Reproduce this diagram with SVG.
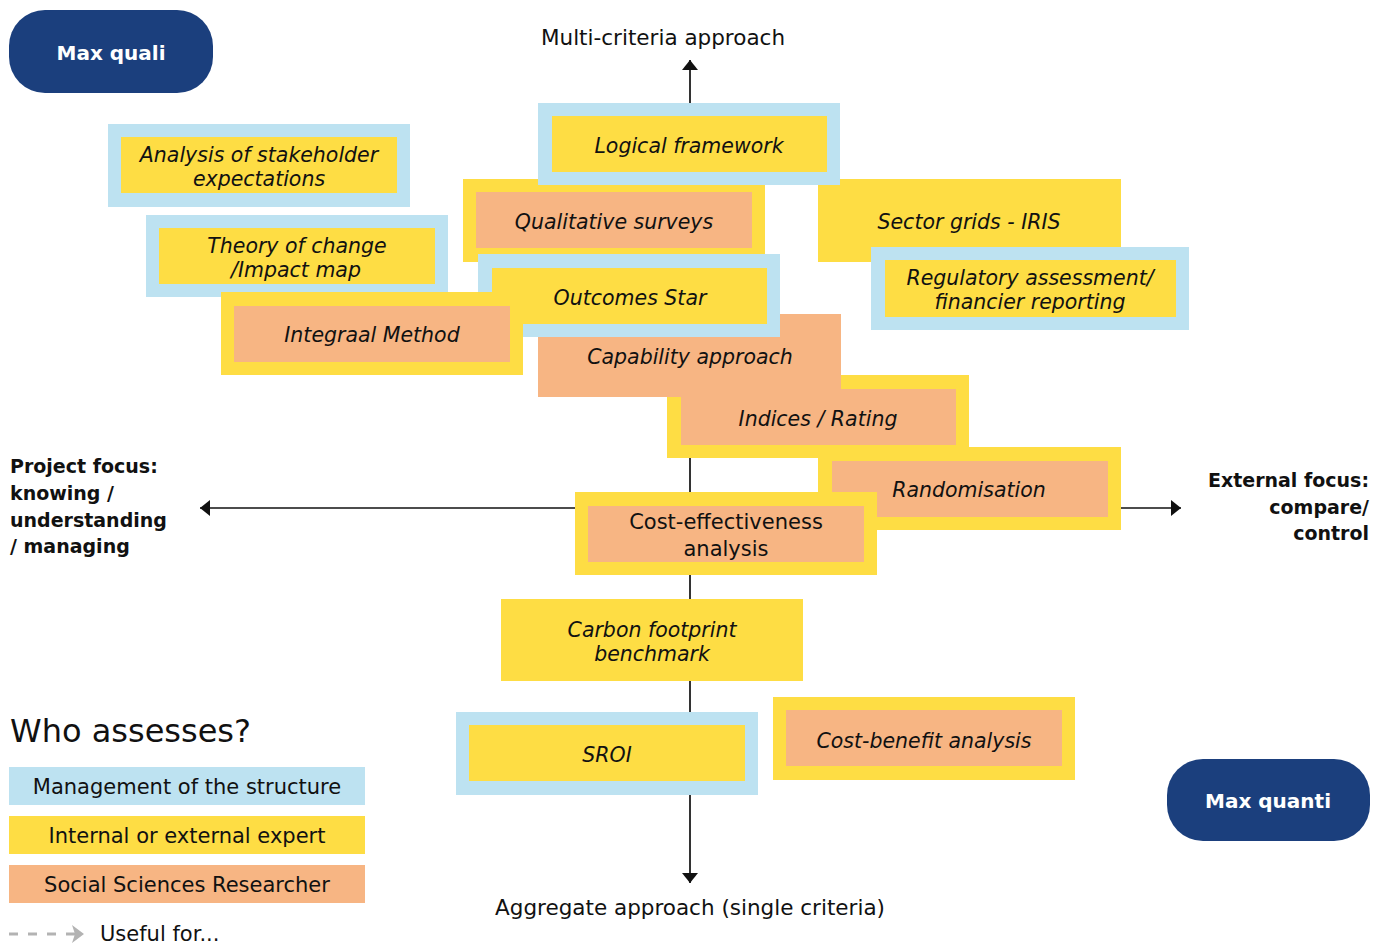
<svg xmlns="http://www.w3.org/2000/svg" width="1387" height="944" viewBox="0 0 1387 944">
<style>
text{font-family:"DejaVu Sans","Liberation Sans",sans-serif;fill:#111}
.bt{font-size:20.5px;font-style:italic;text-anchor:middle}
.up{font-size:21px;text-anchor:middle}
.ax{font-size:21.5px}
.bold{font-size:19px;font-weight:bold}
.blue{fill:#bde2f1}
.yel{fill:#fedd44}
.org{fill:#f7b583}
.navy{fill:#1b3f7d}
.wt{fill:#fff;font-size:20px;font-weight:bold;text-anchor:middle}
</style>
<defs>
<marker id="ah" viewBox="0 0 10 16" refX="10" refY="8" markerWidth="10" markerHeight="16" markerUnits="userSpaceOnUse" orient="auto">
<path d="M0,0 L10,8 L0,16 Z" fill="#111"/>
</marker>
<marker id="gh" viewBox="0 0 12 18" refX="12" refY="9" markerWidth="12" markerHeight="18" markerUnits="userSpaceOnUse" orient="auto">
<path d="M0,0 L12,9 L0,18 L3,9 Z" fill="#b3b3b3"/>
</marker>
</defs>
<rect width="1387" height="944" fill="#fff"/>

<g id="connectors">
<line x1="690" y1="300" x2="690" y2="60" stroke="#333" stroke-width="2" marker-end="url(#ah)"/>
<line x1="690" y1="300" x2="690" y2="883" stroke="#333" stroke-width="2" marker-end="url(#ah)"/>
<line x1="690" y1="508" x2="200" y2="508" stroke="#111" stroke-width="1.5" marker-end="url(#ah)"/>
<line x1="690" y1="508" x2="1181" y2="508" stroke="#111" stroke-width="1.5" marker-end="url(#ah)"/>
</g>

<g id="axis-labels">
<text class="ax" x="663" y="45" text-anchor="middle">Multi-criteria approach</text>
<text class="ax" x="690" y="915" text-anchor="middle">Aggregate approach (single criteria)</text>
<text class="bold" x="10" y="473">Project focus:</text>
<text class="bold" x="10" y="500">knowing /</text>
<text class="bold" x="10" y="527">understanding</text>
<text class="bold" x="10" y="553">/ managing</text>
<text class="bold" x="1369" y="487" text-anchor="end">External focus:</text>
<text class="bold" x="1369" y="514" text-anchor="end">compare/</text>
<text class="bold" x="1369" y="540" text-anchor="end">control</text>
</g>

<g id="max-quali"><rect class="navy" x="9" y="10" width="204" height="83" rx="36"/><text class="wt" x="111" y="60">Max quali</text></g>
<g id="max-quanti"><rect class="navy" x="1167" y="759" width="203" height="82" rx="36"/><text class="wt" x="1268" y="808">Max quanti</text></g>

<g id="sector-grids"><rect class="yel" x="818" y="179" width="303" height="83"/><text class="bt" x="969" y="229">Sector grids - IRIS</text></g>
<g id="qualitative-surveys"><rect class="yel" x="463" y="179" width="302" height="83"/><rect class="org" x="476" y="192" width="276" height="56"/><text class="bt" x="614" y="229">Qualitative surveys</text></g>
<g id="logical-framework"><rect class="blue" x="538" y="103" width="302" height="82"/><rect class="yel" x="552" y="116" width="275" height="56"/><text class="bt" x="689" y="153">Logical framework</text></g>
<g id="regulatory"><rect class="blue" x="871" y="247" width="318" height="83"/><rect class="yel" x="885" y="260" width="291" height="57"/><text class="bt" x="1030" y="285">Regulatory assessment/</text><text class="bt" x="1030" y="309">financier reporting</text></g>
<g id="indices-rating"><rect class="yel" x="667" y="375" width="302" height="83"/><rect class="org" x="681" y="389" width="275" height="56"/><text class="bt" x="818" y="426">Indices / Rating</text></g>
<g id="capability-approach"><rect class="org" x="538" y="314" width="303" height="83"/><text class="bt" x="690" y="364">Capability approach</text></g>
<g id="outcomes-star"><rect class="blue" x="478" y="254" width="302" height="83"/><rect class="yel" x="492" y="268" width="275" height="56"/><text class="bt" x="630" y="305">Outcomes Star</text></g>
<g id="theory-of-change"><rect class="blue" x="146" y="215" width="302" height="82"/><rect class="yel" x="159" y="228" width="276" height="56"/><text class="bt" x="297" y="253">Theory of change</text><text class="bt" x="296" y="277">/Impact map</text></g>
<g id="integraal-method"><rect class="yel" x="221" y="292" width="302" height="83"/><rect class="org" x="234" y="306" width="276" height="56"/><text class="bt" x="372" y="342">Integraal Method</text></g>
<g id="stakeholder-analysis"><rect class="blue" x="108" y="124" width="302" height="83"/><rect class="yel" x="121" y="137" width="276" height="56"/><text class="bt" x="259" y="162">Analysis of stakeholder</text><text class="bt" x="259" y="186">expectations</text></g>
<g id="randomisation"><rect class="yel" x="818" y="447" width="303" height="83"/><rect class="org" x="832" y="461" width="276" height="56"/><text class="bt" x="969" y="497">Randomisation</text></g>
<g id="cost-effectiveness"><rect class="yel" x="575" y="492" width="302" height="83"/><rect class="org" x="588" y="506" width="276" height="56"/><text class="up" x="726" y="529">Cost-effectiveness</text><text class="up" x="726" y="556">analysis</text></g>
<g id="carbon-footprint"><rect class="yel" x="501" y="599" width="302" height="82"/><text class="bt" x="652" y="637">Carbon footprint</text><text class="bt" x="652" y="661">benchmark</text></g>
<g id="sroi"><rect class="blue" x="456" y="712" width="302" height="83"/><rect class="yel" x="469" y="725" width="276" height="56"/><text class="bt" x="607" y="762">SROI</text></g>
<g id="cost-benefit"><rect class="yel" x="773" y="697" width="302" height="83"/><rect class="org" x="786" y="710" width="276" height="56"/><text class="bt" x="924" y="748">Cost-benefit analysis</text></g>

<g id="legend">
<text x="10" y="742" font-size="32">Who assesses?</text>
<rect class="blue" x="9" y="767" width="356" height="38"/><text class="up" x="187" y="794">Management of the structure</text>
<rect class="yel" x="9" y="816" width="356" height="38"/><text class="up" x="187" y="843">Internal or external expert</text>
<rect class="org" x="9" y="865" width="356" height="38"/><text class="up" x="187" y="892">Social Sciences Researcher</text>
<line x1="9" y1="934" x2="84" y2="934" stroke="#b3b3b3" stroke-width="3" stroke-dasharray="9,10" marker-end="url(#gh)"/>
<text x="100" y="941" font-size="21">Useful for...</text>
</g>
</svg>
